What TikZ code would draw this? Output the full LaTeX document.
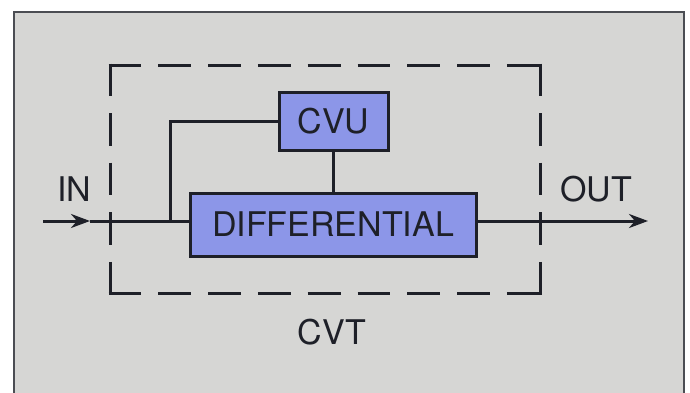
\documentclass[tikz,border=0pt]{standalone}
\usepackage{fontspec}
\setmainfont{TeX Gyre Heros}
\usetikzlibrary{
    positioning,
    arrows.meta,
    calc
}
\definecolor{panelcolor}{RGB}{214, 214, 212}
\definecolor{blockcolor}{RGB}{140, 150, 232}
\definecolor{inkcolor}{RGB}{30, 32, 40}

\begin{document}
\begin{tikzpicture}[
    x=1pt, y=1pt,
    % Block styles
    block/.style={
        rectangle,
        draw=inkcolor,
        fill=blockcolor,
        line width=3pt,
        inner sep=0pt,
        minimum width=#1,
        font=\fontsize{34}{38}\selectfont,
        text=inkcolor
    },
    % Plain labels
    tag/.style={
        font=\fontsize{34}{38}\selectfont,
        text=inkcolor,
        inner sep=0pt
    },
    % Signal lines
    wire/.style={
        draw=inkcolor,
        line width=3pt
    },
    arrow/.style={
        wire,
        -{Stealth[length=19pt,width=14pt,inset=6pt]}
    },
    % Dashed boundary
    boundary/.style={
        draw=inkcolor,
        line width=3pt,
        line cap=butt,
        dash pattern=on #1 off 17pt
    }
]

% Panel
\useasboundingbox (0,0) rectangle (690,392);
\fill[white] (0,0) rectangle (690,392);
\draw[draw=inkcolor!80, line width=1.5pt, fill=panelcolor] (14,-10) -- (14,380) -- (684,380) -- (684,-10);

% ============================================
% CVT BOUNDARY
% ============================================

\coordinate (nw) at (110,327);
\coordinate (ne) at (540,327);
\coordinate (se) at (540,99);
\coordinate (sw) at (110,99);

\draw[boundary=32.8pt] ([xshift=-1.5pt]nw) -- ([xshift=1.5pt]ne);
\draw[boundary=32.8pt] ([xshift=-1.5pt]sw) -- ([xshift=1.5pt]se);
\draw[boundary=32.6pt] ([yshift=1.5pt]nw) -- ([yshift=-1.5pt]sw);
\draw[boundary=32.6pt] ([yshift=1.5pt]ne) -- ([yshift=-1.5pt]se);

\node[tag] (cvt) at (332,60) {CVT};

% ============================================
% BLOCKS
% ============================================

\node[block=109pt, minimum height=58pt] (cvu) at (333.5,271) {CVU};
\node[block=286pt, minimum height=63pt] (diff) at (333,167.5) {DIFFERENTIAL};

% ============================================
% SIGNAL PATH
% ============================================

\coordinate (in) at (43,171);
\coordinate (intip) at (90,171);
\coordinate (tap) at (170,171);
\coordinate (out) at (648,171);

\draw[arrow] (in) -- (intip);
\draw[wire] (intip) -- (diff.west |- tap);
\draw[arrow] (diff.east |- tap) -- (out);

% Feedback to CVU
\draw[wire] (tap) |- (cvu.west);
\draw[wire] (cvu.south) -- (diff.north -| cvu.south);

% Port labels
\node[tag] (inlabel) at (74,203) {IN};
\node[tag] (outlabel) at (596,203) {OUT};

\end{tikzpicture}
\end{document}
